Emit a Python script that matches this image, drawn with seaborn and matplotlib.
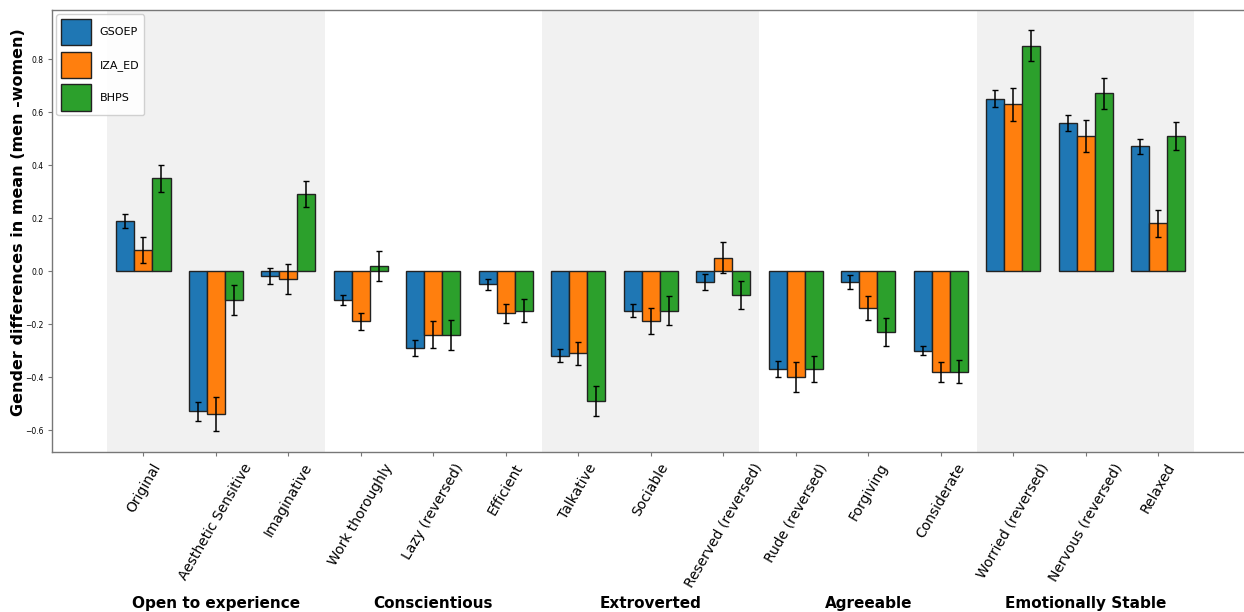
import numpy as np
import pandas as pd
import matplotlib
matplotlib.use("Agg")
import matplotlib.pyplot as plt
import seaborn as sns

# Personality items (x axis), grouped by Big Five trait
traits = ["Original", "Aesthetic Sensitive", "Imaginative",
          "Work thoroughly", "Lazy (reversed)", "Efficient",
          "Talkative", "Sociable", "Reserved (reversed)",
          "Rude (reversed)", "Forgiving", "Considerate",
          "Worried (reversed)", "Nervous (reversed)", "Relaxed"]
groups = ["Open to experience", "Conscientious", "Extroverted",
          "Agreeable", "Emotionally Stable"]
surveys = ["GSOEP", "IZA_ED", "BHPS"]

# Mean gender differences (men - women)
gsoep = [0.19, -0.53, -0.02, -0.11, -0.29, -0.05, -0.32, -0.15, -0.04,
         -0.37, -0.04, -0.30, 0.65, 0.56, 0.47]
iza_ed = [0.08, -0.54, -0.03, -0.19, -0.24, -0.16, -0.31, -0.19, 0.05,
          -0.40, -0.14, -0.38, 0.63, 0.51, 0.18]
bhps = [0.35, -0.11, 0.29, 0.02, -0.24, -0.15, -0.49, -0.15, -0.09,
        -0.37, -0.23, -0.38, 0.85, 0.67, 0.51]

# Half-widths of the confidence intervals
gsoep_err = [0.026, 0.036, 0.030, 0.018, 0.029, 0.020, 0.025, 0.025, 0.030,
             0.030, 0.026, 0.018, 0.032, 0.030, 0.028]
iza_ed_err = [0.048, 0.065, 0.055, 0.031, 0.051, 0.035, 0.043, 0.049, 0.059,
              0.057, 0.046, 0.038, 0.062, 0.060, 0.050]
bhps_err = [0.051, 0.057, 0.049, 0.056, 0.057, 0.043, 0.057, 0.055, 0.054,
            0.048, 0.052, 0.043, 0.058, 0.057, 0.052]

values = {"GSOEP": gsoep, "IZA_ED": iza_ed, "BHPS": bhps}
errors = {"GSOEP": gsoep_err, "IZA_ED": iza_ed_err, "BHPS": bhps_err}

df = pd.DataFrame([
    {"item": t, "survey": s, "diff": values[s][i]}
    for s in surveys for i, t in enumerate(traits)
])

sns.set_style("white")
plt.rcParams.update({"text.color": "black", "axes.labelcolor": "black",
                     "xtick.labelcolor": "black", "ytick.labelcolor": "black"})
fig = plt.figure(figsize=(12.44, 6.12), dpi=100)
ax = fig.add_axes([52 / 1244, 160 / 612, 1191 / 1244, 442 / 612])

# Alternate shaded bands for the trait groups
for g in range(0, len(groups), 2):
    ax.axvspan(3 * g - 0.5, 3 * g + 2.5, color="#f1f1f1", zorder=0, lw=0)

sns.barplot(data=df, x="item", y="diff", hue="survey", order=traits,
            hue_order=surveys, palette=["#1f77b4", "#ff7f0e", "#2ca02c"],
            saturation=1, width=0.75, edgecolor="#222222", linewidth=1.0,
            errorbar=None, ax=ax, zorder=2)

for cont, s in zip(ax.containers, surveys):
    xs = [p.get_x() + p.get_width() / 2 for p in cont.patches]
    ax.errorbar(xs, values[s], yerr=errors[s], fmt="none", ecolor="black",
                elinewidth=1.1, capsize=2.5, capthick=1.0, zorder=3)

ax.set_xlim(-1.26, 15.17)
ax.set_ylim(-0.683, 0.985)
ax.set_xlabel("")
ax.set_ylabel("Gender differences in mean (men -women)", fontsize=11.5,
              fontweight="bold", color="black")
ax.yaxis.set_label_coords(-0.022, 0.52)

ax.set_yticks([-0.6, -0.4, -0.2, 0.0, 0.2, 0.4, 0.6, 0.8])
ax.tick_params(axis="y", labelsize=5.5, length=3, pad=3, color="#777777",
               labelcolor="black", left=True, direction="out")
ax.tick_params(axis="x", labelsize=10, length=3, color="#777777",
               labelcolor="black", bottom=True, direction="out")
plt.setp(ax.get_xticklabels(), rotation=60, ha="center")

for side in ["top", "left", "bottom"]:
    ax.spines[side].set_color("#777777")
    ax.spines[side].set_linewidth(1.0)
ax.spines["right"].set_visible(False)

# Trait group names under the item labels
for g, name in enumerate(groups):
    ax.text(3 * g + 1, -0.342, name, transform=ax.get_xaxis_transform(),
            ha="center", va="center", fontsize=11, fontweight="bold",
            color="black")

handles, labels = ax.get_legend_handles_labels()
leg = ax.legend(handles, labels, loc="upper left", fontsize=8,
                handlelength=2.7, handleheight=3.3, labelspacing=0.55,
                borderaxespad=0.4, framealpha=0.9)
for t in leg.get_texts():
    t.set_color("black")

fig.savefig("out.png", dpi=100)
